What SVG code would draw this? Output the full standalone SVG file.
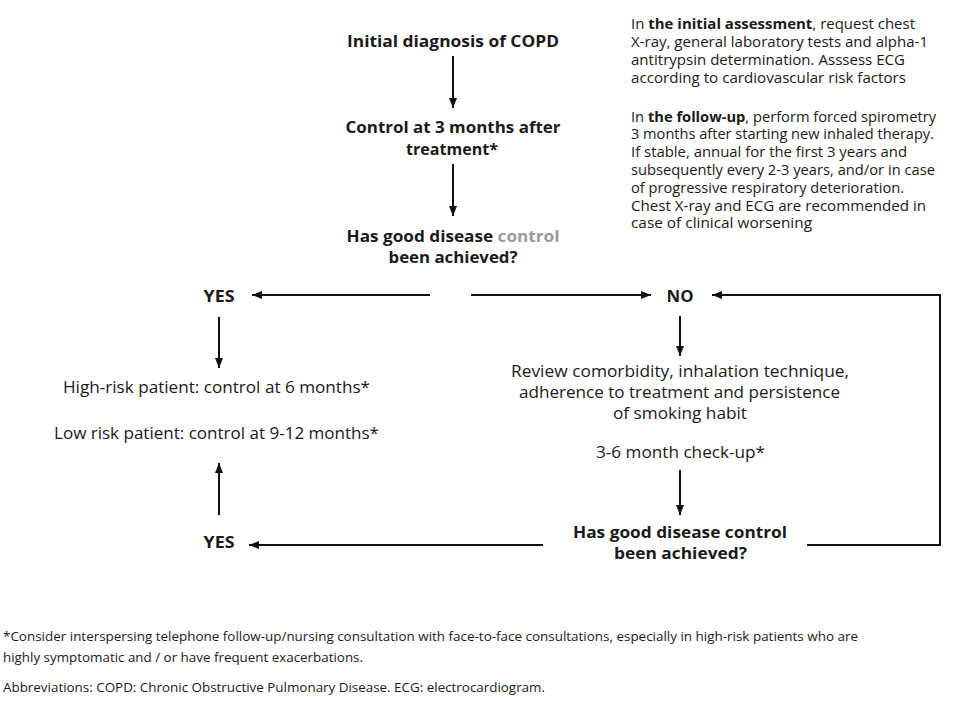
<svg xmlns="http://www.w3.org/2000/svg" width="958" height="717" viewBox="0 0 958 717">
<style>
text{font-family:"Open Sans","Noto Sans","Liberation Sans",sans-serif;fill:#1a1a1a}
.b{font-weight:700;font-size:16px}
.r{font-size:16px}
.s{font-size:14.5px}
.f{font-size:12.5px}
.m{text-anchor:middle}
.line{stroke:#111;stroke-width:2;fill:none}
.gray{fill:#9a9a9a}
</style>
<defs>
<marker id="ah" viewBox="0 0 10 10" refX="10" refY="5" markerWidth="10" markerHeight="10" markerUnits="userSpaceOnUse" orient="auto">
<path d="M0,1 L10,5 L0,9 Z" fill="#111"/>
</marker>
</defs>
<rect width="958" height="717" fill="#fff"/>

<g id="n-initial"><text class="b m" x="453" y="47" textLength="212" lengthAdjust="spacingAndGlyphs">Initial diagnosis of COPD</text></g>
<g id="n-control3"><text class="b m" x="453" y="133" textLength="215" lengthAdjust="spacingAndGlyphs">Control at 3 months after</text><text class="b m" x="452" y="155" textLength="92" lengthAdjust="spacingAndGlyphs">treatment*</text></g>
<g id="n-q1"><text class="b m" x="453" y="242" textLength="213" lengthAdjust="spacingAndGlyphs">Has good disease <tspan class="gray">control</tspan></text><text class="b m" x="453" y="263" textLength="129" lengthAdjust="spacingAndGlyphs">been achieved?</text></g>
<g id="n-yes1"><text class="b m" x="219" y="302" textLength="31" lengthAdjust="spacingAndGlyphs">YES</text></g>
<g id="n-no"><text class="b m" x="680" y="302" textLength="27" lengthAdjust="spacingAndGlyphs">NO</text></g>
<g id="n-risk"><text class="r m" x="216.5" y="393" textLength="307" lengthAdjust="spacingAndGlyphs">High-risk patient: control at 6 months*</text><text class="r m" x="216.5" y="439" textLength="325" lengthAdjust="spacingAndGlyphs">Low risk patient: control at 9-12 months*</text></g>
<g id="n-review"><text class="r m" x="680" y="377" textLength="338" lengthAdjust="spacingAndGlyphs">Review comorbidity, inhalation technique,</text><text class="r m" x="679.5" y="398" textLength="321" lengthAdjust="spacingAndGlyphs">adherence to treatment and persistence</text><text class="r m" x="680" y="419" textLength="134" lengthAdjust="spacingAndGlyphs">of smoking habit</text><text class="r m" x="680.5" y="458" textLength="169" lengthAdjust="spacingAndGlyphs">3-6 month check-up*</text></g>
<g id="n-q2"><text class="b m" x="680" y="538" textLength="214" lengthAdjust="spacingAndGlyphs">Has good disease control</text><text class="b m" x="680.5" y="559" textLength="133" lengthAdjust="spacingAndGlyphs">been achieved?</text></g>
<g id="n-yes2"><text class="b m" x="219" y="548" textLength="31" lengthAdjust="spacingAndGlyphs">YES</text></g>

<g id="n-notes">
<text class="s" x="631" y="29.3" textLength="284" lengthAdjust="spacingAndGlyphs">In <tspan font-weight="700">the initial assessment</tspan>, request chest</text>
<text class="s" x="631" y="47.1" textLength="297" lengthAdjust="spacingAndGlyphs">X-ray, general laboratory tests and alpha-1</text>
<text class="s" x="631" y="64.9" textLength="274" lengthAdjust="spacingAndGlyphs">antitrypsin determination. Asssess ECG</text>
<text class="s" x="631" y="82.7" textLength="275" lengthAdjust="spacingAndGlyphs">according to cardiovascular risk factors</text>
<text class="s" x="631" y="121.5" textLength="305" lengthAdjust="spacingAndGlyphs">In <tspan font-weight="700">the follow-up</tspan>, perform forced spirometry</text>
<text class="s" x="631" y="139.3" textLength="303" lengthAdjust="spacingAndGlyphs">3 months after starting new inhaled therapy.</text>
<text class="s" x="631" y="157.1" textLength="276" lengthAdjust="spacingAndGlyphs">If stable, annual for the first 3 years and</text>
<text class="s" x="631" y="174.9" textLength="304" lengthAdjust="spacingAndGlyphs">subsequently every 2-3 years, and/or in case</text>
<text class="s" x="631" y="192.7" textLength="273" lengthAdjust="spacingAndGlyphs">of progressive respiratory deterioration.</text>
<text class="s" x="631" y="210.5" textLength="295" lengthAdjust="spacingAndGlyphs">Chest X-ray and ECG are recommended in</text>
<text class="s" x="631" y="228.3" textLength="181" lengthAdjust="spacingAndGlyphs">case of clinical worsening</text>
</g>

<g id="n-footnote">
<text class="f" x="3" y="641" textLength="855" lengthAdjust="spacingAndGlyphs">*Consider interspersing telephone follow-up/nursing consultation with face-to-face consultations, especially in high-risk patients who are</text>
<text class="f" x="3" y="662" textLength="360" lengthAdjust="spacingAndGlyphs">highly symptomatic and / or have frequent exacerbations.</text>
<text class="f" x="3" y="692" textLength="542" lengthAdjust="spacingAndGlyphs">Abbreviations: COPD: Chronic Obstructive Pulmonary Disease. ECG: electrocardiogram.</text>
</g>

<g id="connectors">
<line class="line" x1="453" y1="56" x2="453" y2="108" marker-end="url(#ah)"/>
<line class="line" x1="453" y1="164" x2="453" y2="216" marker-end="url(#ah)"/>
<line class="line" x1="430" y1="295" x2="252" y2="295" marker-end="url(#ah)"/>
<line class="line" x1="471" y1="295" x2="651" y2="295" marker-end="url(#ah)"/>
<polyline class="line" points="807,545 940,545 940,295 712,295" marker-end="url(#ah)"/>
<line class="line" x1="219" y1="317" x2="219" y2="368" marker-end="url(#ah)"/>
<line class="line" x1="680" y1="316" x2="680" y2="356" marker-end="url(#ah)"/>
<line class="line" x1="680" y1="470" x2="680" y2="515" marker-end="url(#ah)"/>
<line class="line" x1="219" y1="515" x2="219" y2="463" marker-end="url(#ah)"/>
<line class="line" x1="543" y1="545" x2="249" y2="545" marker-end="url(#ah)"/>
</g>
</svg>
